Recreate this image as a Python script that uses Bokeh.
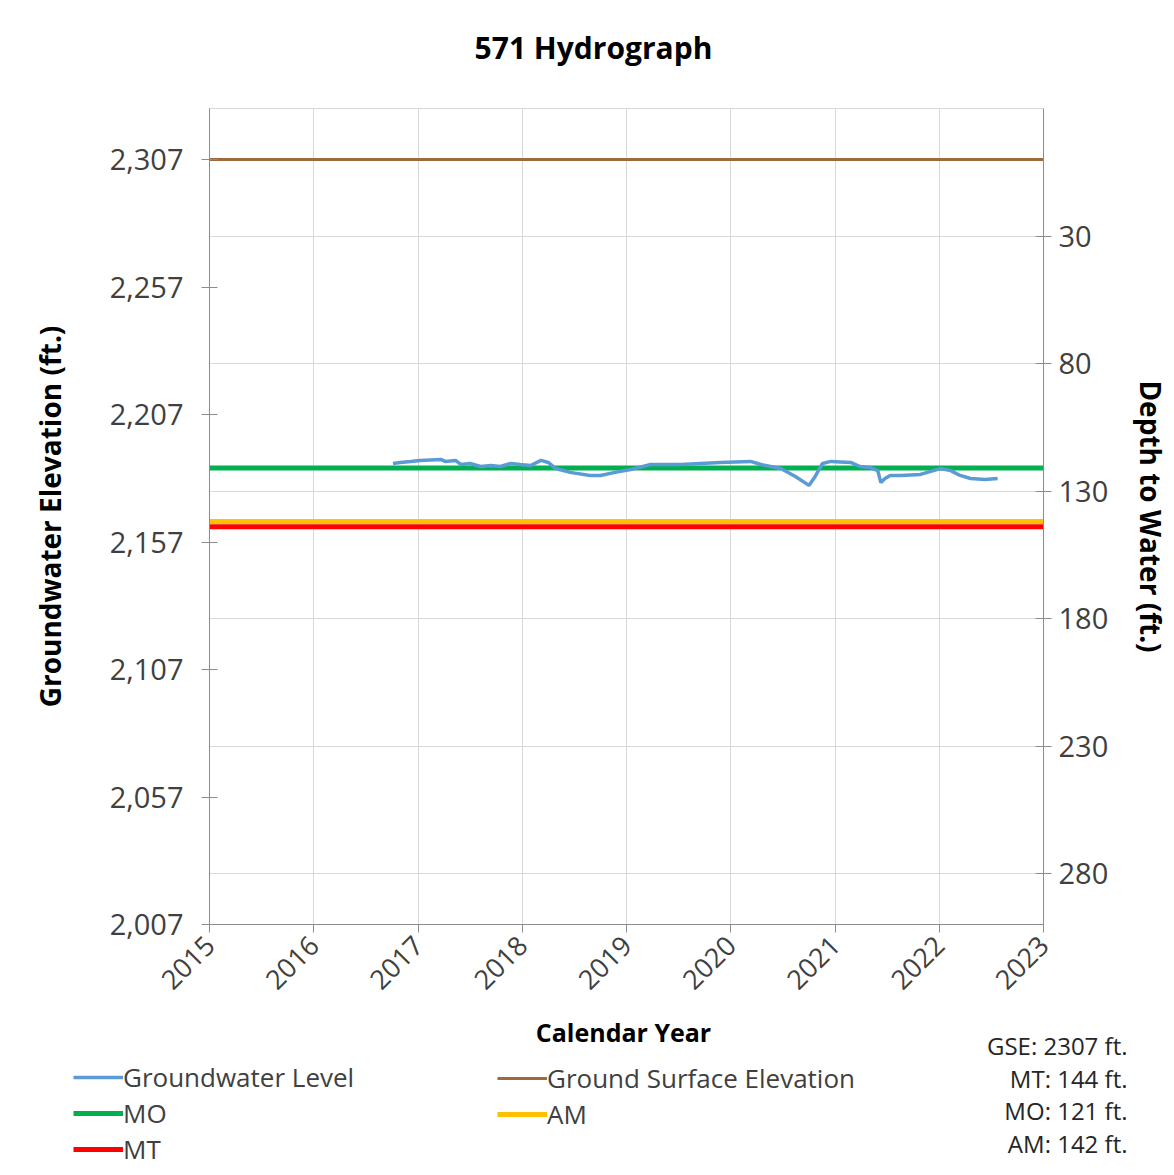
import math
from bokeh.plotting import figure
from bokeh.models import (Range1d, LinearAxis, FixedTicker, NumeralTickFormatter,
                          Grid, Legend, LegendItem, Label)
from bokeh.embed import file_html
from bokeh.resources import INLINE

# ---------------- data ----------------
gw_year = [2016.76, 2016.83, 2016.93, 2017.02, 2017.22, 2017.26, 2017.36, 2017.41,
           2017.50, 2017.60, 2017.70, 2017.79, 2017.89, 2017.98, 2018.08, 2018.18,
           2018.25, 2018.32, 2018.46, 2018.65, 2018.75, 2018.89, 2019.04, 2019.23,
           2019.52, 2019.71, 2019.90, 2020.19, 2020.29, 2020.48, 2020.62, 2020.75,
           2020.81, 2020.88, 2020.96, 2021.15, 2021.24, 2021.34, 2021.41, 2021.44,
           2021.48, 2021.53, 2021.63, 2021.82, 2022.01, 2022.11, 2022.20, 2022.30,
           2022.44, 2022.56]
gw_elev = [2187.8, 2188.2, 2188.6, 2189.0, 2189.4, 2188.6, 2189.0, 2187.4,
           2187.8, 2186.6, 2187.0, 2186.6, 2187.8, 2187.4, 2187.0, 2189.0,
           2188.2, 2185.8, 2184.3, 2183.1, 2183.1, 2184.3, 2185.4, 2187.4,
           2187.4, 2187.8, 2188.2, 2188.6, 2187.4, 2185.8, 2182.7, 2179.2,
           2182.7, 2187.8, 2188.6, 2188.2, 2186.6, 2186.2, 2185.0, 2180.3,
           2181.9, 2183.1, 2183.1, 2183.5, 2185.8, 2185.0, 2183.1, 2181.9,
           2181.5, 2181.9]

GSE = 2307          # ground surface elevation, ft
MT_DEPTH = 144      # minimum threshold depth, ft
MO_DEPTH = 121      # measurable objective depth, ft
AM_DEPTH = 142      # action margin depth, ft

x_ticks = [2015, 2016, 2017, 2018, 2019, 2020, 2021, 2022, 2023]
left_ticks = [2007, 2057, 2107, 2157, 2207, 2257, 2307]
right_ticks = [30, 80, 130, 180, 230, 280]

title_text = "571 Hydrograph"
x_title = "Calendar Year"
notes = ["GSE: 2307 ft.", "MT: 144 ft.", "MO: 121 ft.", "AM: 142 ft."]

# ---------------- styles ----------------
FONT = "Open Sans"
AX_COL = "#8c8c8c"
TXT = "#404040"
GRID = "#d9d9d9"
C_GW, W_GW = "#5B9BD5", 3.5
C_GSE, W_GSE = "#9C6A3C", 3
C_MO, W_MO = "#00B050", 5
C_AM, W_AM = "#FFC000", 5
C_MT, W_MT = "#FF0000", 5

X0, X1 = 2015, 2023
Y0, Y1 = 2007, 2327
W = 1174
H0 = 108            # header (title) height
H1 = 1010 - H0      # main chart height
H2 = 1167 - 1010    # footer height


def blank_fig(h):
    fig = figure(width=W, height=h, x_range=Range1d(0, W), y_range=Range1d(h, 0),
                 output_backend="svg", toolbar_location=None,
                 x_axis_type=None, y_axis_type=None, min_border=0)
    fig.outline_line_color = None
    fig.grid.visible = False
    fig.background_fill_color = "white"
    fig.border_fill_color = "white"
    return fig


# ---------------- header (title) ----------------
hdr = blank_fig(H0)
hdr.add_layout(Label(x=593, y=47, text=title_text, text_font=FONT,
                     text_font_style="bold", text_font_size="30px",
                     text_align="center", text_baseline="middle", text_color="black"))

# ---------------- main figure ----------------
p = figure(width=W, height=H1, x_range=Range1d(X0, X1), y_range=Range1d(Y0, Y1),
           output_backend="svg", toolbar_location=None,
           min_border_left=209, min_border_right=W - 1043, min_border_top=0,
           min_border_bottom=1010 - 924)
p.background_fill_color = "white"
p.border_fill_color = "white"
p.outline_line_color = GRID
p.grid.visible = False

# x axis
xa = p.xaxis[0]
xa.ticker = FixedTicker(ticks=x_ticks)
xa.major_label_orientation = math.pi / 4
xa.major_label_text_font = FONT
xa.major_label_text_font_size = "27px"
xa.major_label_text_color = TXT
xa.major_label_standoff = 8
xa.axis_line_color = AX_COL
xa.major_tick_line_color = AX_COL
xa.major_tick_out = 8
xa.major_tick_in = 0
xa.minor_tick_line_color = None

# left axis
ya = p.yaxis[0]
ya.ticker = FixedTicker(ticks=left_ticks)
ya.formatter = NumeralTickFormatter(format="0,0")
ya.axis_label = "Groundwater Elevation (ft.)"
ya.axis_label_text_font = FONT
ya.axis_label_text_font_style = "bold"
ya.axis_label_text_font_size = "28px"
ya.axis_label_text_color = "black"
ya.axis_label_standoff = 38
ya.major_label_text_font = FONT
ya.major_label_text_font_size = "29px"
ya.major_label_text_color = TXT
ya.major_label_standoff = 18
ya.axis_line_color = AX_COL
ya.major_tick_line_color = AX_COL
ya.major_tick_out = 8
ya.major_tick_in = 8
ya.minor_tick_line_color = None

# right axis (depth to water)
p.extra_y_ranges = {"depth": Range1d(start=GSE - Y0, end=GSE - Y1)}
ra = LinearAxis(y_range_name="depth")
ra.ticker = FixedTicker(ticks=right_ticks)
ra.axis_label = "Depth to Water (ft.)"
ra.axis_label_text_font = FONT
ra.axis_label_text_font_style = "bold"
ra.axis_label_text_font_size = "28px"
ra.axis_label_text_color = "black"
ra.axis_label_standoff = 21
ra.major_label_text_font = FONT
ra.major_label_text_font_size = "29px"
ra.major_label_text_color = TXT
ra.major_label_standoff = 7
ra.axis_line_color = AX_COL
ra.major_tick_line_color = AX_COL
ra.major_tick_out = 8
ra.major_tick_in = 8
ra.minor_tick_line_color = None
p.add_layout(ra, "right")

# grids
p.add_layout(Grid(dimension=0, ticker=xa.ticker, grid_line_color=GRID))
p.add_layout(Grid(dimension=1, ticker=ra.ticker, y_range_name="depth",
                  grid_line_color=GRID))

# series
xs = [X0, X1]
p.line(xs, [GSE, GSE], line_color=C_GSE, line_width=W_GSE)
p.line(xs, [GSE - MO_DEPTH] * 2, line_color=C_MO, line_width=W_MO)
p.line(xs, [GSE - AM_DEPTH] * 2, line_color=C_AM, line_width=W_AM)
p.line(xs, [GSE - MT_DEPTH] * 2, line_color=C_MT, line_width=W_MT)
p.line(gw_year, gw_elev, line_color=C_GW, line_width=W_GW)

# ---------------- footer (axis title, legend, notes) ----------------
f = blank_fig(H2)

def py(page_y):
    return page_y - 1010

f.add_layout(Label(x=623, y=py(1031), text=x_title, text_font=FONT,
                   text_font_style="bold", text_font_size="25px",
                   text_align="center", text_baseline="middle", text_color="black"))

for i, t in enumerate(notes):
    f.add_layout(Label(x=1127, y=py(1045 + 32.7 * i), text=t, text_font=FONT,
                       text_font_size="24px", text_align="right",
                       text_baseline="middle", text_color="#262626"))

# legend swatch renderers (a single NaN point each: nothing is drawn in the plot)
nan = float("nan")
l_gw = f.line([nan], [nan], line_color=C_GW, line_width=W_GW)
l_gse = f.line([nan], [nan], line_color=C_GSE, line_width=W_GSE)
l_mo = f.line([nan], [nan], line_color=C_MO, line_width=W_MO)
l_am = f.line([nan], [nan], line_color=C_AM, line_width=W_AM)
l_mt = f.line([nan], [nan], line_color=C_MT, line_width=W_MT)

def make_legend(items, loc):
    return Legend(items=items, location=loc, orientation="vertical",
                  glyph_width=50, glyph_height=30, label_height=35,
                  label_standoff=0, spacing=0, padding=0, margin=0,
                  border_line_color=None, background_fill_alpha=0,
                  label_text_font=FONT, label_text_font_size="26px",
                  label_text_color=TXT)

f.add_layout(make_legend([LegendItem(label="Groundwater Level", renderers=[l_gw]),
                          LegendItem(label="MO", renderers=[l_mo]),
                          LegendItem(label="MT", renderers=[l_mt])],
                         (73, 0)))
f.add_layout(make_legend([LegendItem(label="Ground Surface Elevation", renderers=[l_gse]),
                          LegendItem(label="AM", renderers=[l_am])],
                         (497, 35)))

open("out.html", "w").write(file_html([hdr, p, f], INLINE))
